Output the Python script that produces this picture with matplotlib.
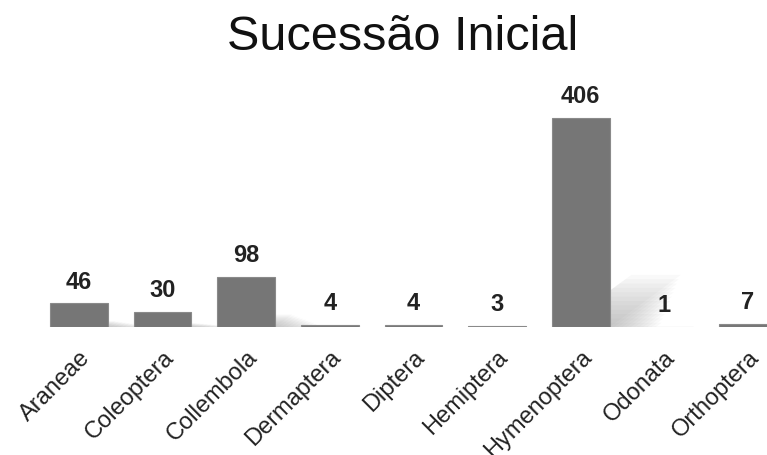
import matplotlib.pyplot as plt
from matplotlib.patches import Polygon
import numpy as np

plt.rcParams['font.family'] = ['Liberation Sans', 'DejaVu Sans']

categories = ['Araneae', 'Coleoptera', 'Collembola', 'Dermaptera', 'Diptera',
              'Hemiptera', 'Hymenoptera', 'Odonata', 'Orthoptera']
counts = [46, 30, 98, 4, 4, 3, 406, 1, 7]
title = 'Sucessão Inicial'

bar_color = '#767676'
width = 0.69

fig = plt.figure(figsize=(7.67, 4.55), dpi=100)
ax = fig.add_axes([0, 0.281, 1, 0.543])
x = np.arange(len(categories))

# soft perspective shadows falling to the right of each bar
for xi, h in zip(x, counts):
    if h < 5:
        continue
    x0 = xi - width / 2
    x1 = xi + width / 2
    dx = 0.85 * h / 406
    dy = 0.25 * h
    for k in range(12):
        s = 1 - k / 12
        poly = Polygon([(x0 + 0.1, 0), (x1 + 0.05 * k, 0),
                        (x1 + dx * s + 0.05 * k, dy * s), (x0 + 0.1 + dx * s, dy * s)],
                       closed=True, color='#999999', alpha=0.06, lw=0, zorder=1)
        ax.add_patch(poly)

bars = ax.bar(x, counts, width=width, color=bar_color, edgecolor='#8a8a8a',
              linewidth=0.8, zorder=3)
bars[7].set_color('#b0b0b0')

for xi, h in zip(x, counts):
    ax.annotate(str(h), (xi, h), xytext=(0, 7), textcoords='offset points',
                ha='center', va='bottom', fontsize=17, fontweight='bold', color='#222222')

ax.set_xlim(-0.944, 8.227)
ax.set_ylim(0, 480)
ax.set_xticks(x)
ax.set_xticklabels(categories, rotation=45, ha='right', rotation_mode='anchor',
                   fontsize=17, color='#222222')
ax.tick_params(axis='x', length=0, pad=14)
ax.set_yticks([])
for sp in ax.spines.values():
    sp.set_visible(False)

fig.text(0.525, 0.918, title, ha='center', va='center', fontsize=35, color='#111111')

fig.savefig('out.png', dpi=100)
